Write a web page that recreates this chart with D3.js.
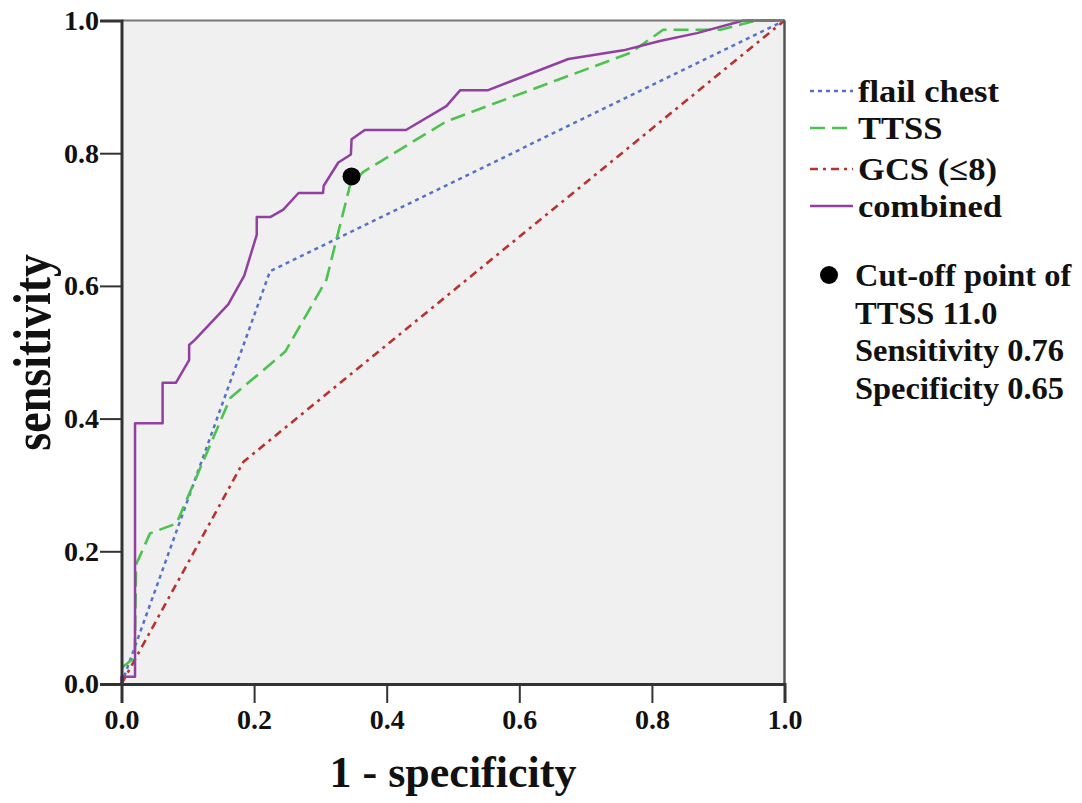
<!DOCTYPE html>
<html><head><meta charset="utf-8">
<script src="https://cdn.jsdelivr.net/npm/d3@7"></script>
<style>body{margin:0;background:#fff}svg{display:block}</style>
</head><body>
<svg id="chart" width="1082" height="803"></svg>
<script>
// ROC data: [1 - specificity, sensitivity]
const flailChest = [[0,0],[0.224,0.622],[1,1]];
const ttss = [[0,0.024],[0.02,0.04],[0.022,0.18],[0.043,0.227],[0.083,0.242],[0.164,0.431],[0.247,0.501],[0.309,0.609],[0.345,0.753],[0.365,0.772],[0.49,0.848],[0.767,0.951],[0.817,0.986],[0.903,0.986],[0.958,1],[1,1]];
const gcs = [[0,0],[0.184,0.335],[1,1]];
const combined = [[0,0],[0,0.011],[0.0204,0.011],[0.0204,0.393],[0.062,0.393],[0.062,0.454],[0.082,0.454],[0.102,0.488],[0.102,0.511],[0.111,0.519],[0.161,0.572],[0.185,0.615],[0.204,0.677],[0.204,0.704],[0.225,0.704],[0.244,0.715],[0.267,0.74],[0.304,0.74],[0.305,0.751],[0.327,0.786],[0.346,0.798],[0.347,0.821],[0.367,0.835],[0.429,0.835],[0.49,0.871],[0.511,0.895],[0.553,0.895],[0.674,0.942],[0.757,0.955],[0.812,0.969],[0.868,0.981],[0.938,1],[1,1]];
const cutoffPoint = [0.347, 0.765];
const tickValues = [0, 0.2, 0.4, 0.6, 0.8, 1.0];
const seriesNames = ["flail chest", "TTSS", "GCS (\u22648)", "combined"];
const noteLines = ["Cut-off point of", "TTSS 11.0", "Sensitivity 0.76", "Specificity 0.65"];

const svg = d3.select("#chart");
const x = d3.scaleLinear().domain([0,1]).range([121.5, 784.5]);
const y = d3.scaleLinear().domain([0,1]).range([684, 20.5]);
const font = "'Liberation Serif','Times New Roman',serif";

svg.append("rect").attr("x", x(0)).attr("y", y(1)).attr("width", x(1)-x(0)).attr("height", y(0)-y(1)).attr("fill", "#f0f0f0");

const styles = [
  {data: flailChest, color: "#5572c8", dash: "4,4", w: 2.5},
  {data: ttss, color: "#4cc24f", dash: "15,7", w: 2.6},
  {data: gcs, color: "#b8332f", dash: "8,5,3,5", w: 2.6},
  {data: combined, color: "#913fa0", dash: null, w: 2.5}
];
const line = d3.line().x(d => x(d[0])).y(d => y(d[1]));
styles.forEach(s => {
  svg.append("path").datum(s.data).attr("d", line).attr("fill", "none")
    .attr("stroke", s.color).attr("stroke-width", s.w)
    .attr("stroke-dasharray", s.dash).attr("stroke-linejoin", "round");
});

// frame top/right
svg.append("line").attr("x1", x(0)).attr("x2", x(1)).attr("y1", y(1)).attr("y2", y(1)).attr("stroke", "#777").attr("stroke-width", 2);
svg.append("line").attr("x1", x(1)).attr("x2", x(1)).attr("y1", y(1)).attr("y2", y(0)).attr("stroke", "#555").attr("stroke-width", 2.5);

const xAxis = svg.append("g").attr("transform", `translate(0,${y(0)})`)
  .call(d3.axisBottom(x).tickValues(tickValues).tickFormat(d3.format(".1f")).tickSize(19).tickPadding(6));
const yAxis = svg.append("g").attr("transform", `translate(${x(0)},0)`)
  .call(d3.axisLeft(y).tickValues(tickValues).tickFormat(d3.format(".1f")).tickSize(21.5).tickPadding(1));
[xAxis, yAxis].forEach(g => {
  g.select(".domain").attr("stroke", "#333").attr("stroke-width", 3);
  g.selectAll(".tick line").attr("stroke", "#333").attr("stroke-width", 2);
  g.selectAll("text").attr("font-family", font).attr("font-size", 28).attr("font-weight", "bold").attr("fill", "#111");
});

svg.append("circle").attr("cx", x(cutoffPoint[0])).attr("cy", y(cutoffPoint[1])).attr("r", 9).attr("fill", "#000");

// axis titles
svg.append("text").attr("x", x(0.5)).attr("y", 787).attr("text-anchor", "middle")
  .attr("font-family", font).attr("font-size", 44).attr("font-weight", "bold").attr("fill", "#111").text("1 - specificity");
svg.append("text").attr("transform", `translate(50,${y(0.5)}) rotate(-90) scale(1,1.15)`).attr("text-anchor", "middle")
  .attr("font-family", font).attr("font-size", 46).attr("font-weight", "bold").attr("fill", "#111").text("sensitivity");

// legend
const legY = [91, 128, 169, 206];
styles.forEach((s, i) => {
  svg.append("line").attr("x1", 810).attr("x2", 853).attr("y1", legY[i]).attr("y2", legY[i])
    .attr("stroke", s.color).attr("stroke-width", 2.5).attr("stroke-dasharray", s.dash);
  svg.append("text").attr("transform", `translate(858,${legY[i] + 11}) scale(1.08,1)`).attr("font-family", font)
    .attr("font-size", 32).attr("font-weight", "bold").attr("fill", "#111").text(seriesNames[i]);
});
svg.append("circle").attr("cx", 829).attr("cy", 275).attr("r", 9).attr("fill", "#000");
noteLines.forEach((t, i) => {
  svg.append("text").attr("transform", `translate(855,${286 + i*37.5}) scale(1.03,1)`).attr("font-family", font)
    .attr("font-size", 31.5).attr("font-weight", "bold").attr("fill", "#111").text(t);
});
</script>
</body></html>
